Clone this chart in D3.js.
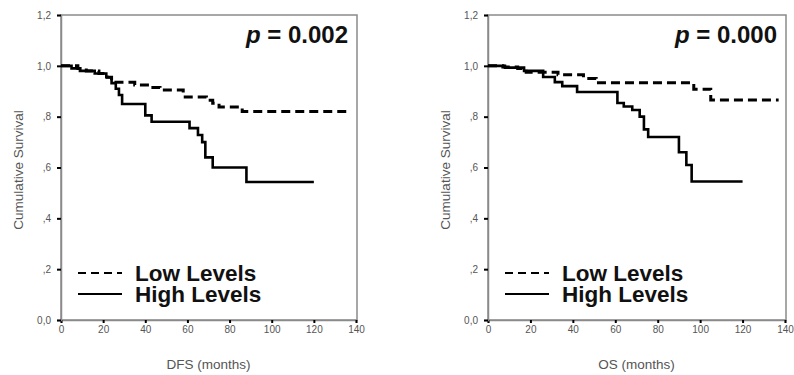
<!DOCTYPE html>
<html>
<head>
<meta charset="utf-8">
<title>Survival curves</title>
<script src="https://cdn.jsdelivr.net/npm/d3@7/dist/d3.min.js"></script>
<style>
    body { margin: 0; background: #fff; }
    svg { display: block; font-family: "Liberation Sans", Arial, sans-serif; }
</style>
</head>
<body>
<svg id="chart" width="794" height="375"></svg>
<script>
// DFS panel
const dfsLowTime = [0, 8, 12, 18, 22, 24, 35, 42, 47, 58, 69, 72, 75, 86, 136];
const dfsLowSurv = [1.0, 0.99, 0.98, 0.97, 0.955, 0.935, 0.925, 0.915, 0.905, 0.877, 0.865, 0.853, 0.838, 0.82, 0.82];
const dfsHighTime = [0, 5, 9, 16, 21.5, 24, 26, 27.5, 29, 40, 43, 61, 65, 67, 68.5, 72, 88, 120];
const dfsHighSurv = [1.0, 0.99, 0.98, 0.97, 0.955, 0.932, 0.91, 0.885, 0.85, 0.805, 0.78, 0.755, 0.728, 0.70, 0.64, 0.60, 0.543, 0.543];

// OS panel
const osLowTime = [0, 7, 14, 18, 33, 45, 51, 97, 105, 137];
const osLowSurv = [1.0, 0.995, 0.99, 0.975, 0.965, 0.95, 0.933, 0.908, 0.866, 0.866];
const osHighTime = [0, 8, 17, 26, 31.5, 35, 42, 61, 64, 68, 71.5, 73.5, 75.5, 90, 93.5, 96, 120];
const osHighSurv = [1.0, 0.993, 0.98, 0.956, 0.936, 0.92, 0.897, 0.854, 0.84, 0.826, 0.80, 0.75, 0.72, 0.66, 0.61, 0.545, 0.545];

const xTicks = [0, 20, 40, 60, 80, 100, 120, 140];
const yTicks = [0, 0.2, 0.4, 0.6, 0.8, 1.0, 1.2];
const yTickLabels = ["0,0", ",2", ",4", ",6", ",8", "1,0", "1,2"];
const legendLabels = ["Low Levels", "High Levels"];

const svg = d3.select("#chart");

drawPanel({
    left: 61, right: 356, top: 15, bottom: 320,
    titleX: 18, xTitle: "DFS (months)", pText: "0.002",
    low: zip(dfsLowTime, dfsLowSurv), high: zip(dfsHighTime, dfsHighSurv)
});

drawPanel({
    left: 488, right: 785, top: 15, bottom: 320,
    titleX: 445, xTitle: "OS (months)", pText: "0.000",
    low: zip(osLowTime, osLowSurv), high: zip(osHighTime, osHighSurv)
});

function zip(times, survs) {
    return times.map(function (t, i) { return { t: t, s: survs[i] }; });
}

function drawPanel(p) {
    const x = d3.scaleLinear().domain([0, 140]).range([p.left, p.right]);
    const y = d3.scaleLinear().domain([0, 1.2]).range([p.bottom, p.top]);
    const g = svg.append("g");

    // frame
    g.append("rect")
        .attr("x", p.left).attr("y", p.top)
        .attr("width", p.right - p.left + 1).attr("height", p.bottom - p.top)
        .attr("fill", "none").attr("stroke", "#8a8a8a").attr("stroke-width", 1.5);

    // axes
    const xAxis = g.append("g")
        .attr("transform", "translate(0," + p.bottom + ")")
        .call(d3.axisBottom(x).tickValues(xTicks).tickSize(3).tickPadding(3));
    const yAxis = g.append("g")
        .attr("transform", "translate(" + p.left + ",0)")
        .call(d3.axisLeft(y).tickValues(yTicks).tickSize(4).tickPadding(6)
            .tickFormat(function (d, i) { return yTickLabels[i]; }));

    [xAxis, yAxis].forEach(function (a) {
        a.select(".domain").attr("stroke", "#8a8a8a").attr("stroke-width", 1.5);
        a.selectAll(".tick line").attr("stroke", "#000").attr("stroke-width", 2);
        a.selectAll(".tick text").attr("fill", "#555").attr("font-size", 10);
    });

    // axis titles
    g.append("text")
        .attr("x", (p.left + p.right) / 2).attr("y", 369)
        .attr("text-anchor", "middle").attr("fill", "#555").attr("font-size", 13.5)
        .text(p.xTitle);
    g.append("text")
        .attr("transform", "translate(" + p.titleX + "," + 170 + ") rotate(-90)")
        .attr("text-anchor", "middle").attr("dy", "0.35em")
        .attr("fill", "#555").attr("font-size", 13.5)
        .text("Cumulative Survival");

    // curves
    const line = d3.line()
        .x(function (d) { return x(d.t); })
        .y(function (d) { return y(d.s); })
        .curve(d3.curveStepAfter);

    g.append("path").datum(p.high)
        .attr("d", line).attr("fill", "none")
        .attr("stroke", "#000").attr("stroke-width", 2.6);
    g.append("path").datum(p.low)
        .attr("d", line).attr("fill", "none")
        .attr("stroke", "#000").attr("stroke-width", 3)
        .attr("stroke-dasharray", "9,5");

    // p value
    const pt = g.append("text")
        .attr("x", p.right - 8).attr("y", 43)
        .attr("text-anchor", "end").attr("font-size", 24).attr("font-weight", "bold")
        .attr("fill", "#111");
    pt.append("tspan").attr("font-style", "italic").text("p");
    pt.append("tspan").text(" = " + p.pText);

    // legend
    const lx = p.left + 17;
    [0, 1].forEach(function (i) {
        const ly = 273 + i * 21;
        g.append("line")
            .attr("x1", lx).attr("x2", lx + 44)
            .attr("y1", ly).attr("y2", ly)
            .attr("stroke", "#000").attr("stroke-width", 2)
            .attr("stroke-dasharray", i === 0 ? "8,5" : null);
        g.append("text")
            .attr("x", lx + 57).attr("y", ly + 8)
            .attr("font-size", 22.5).attr("font-weight", "bold").attr("fill", "#111")
            .text(legendLabels[i]);
    });
}
</script>
</body>
</html>
